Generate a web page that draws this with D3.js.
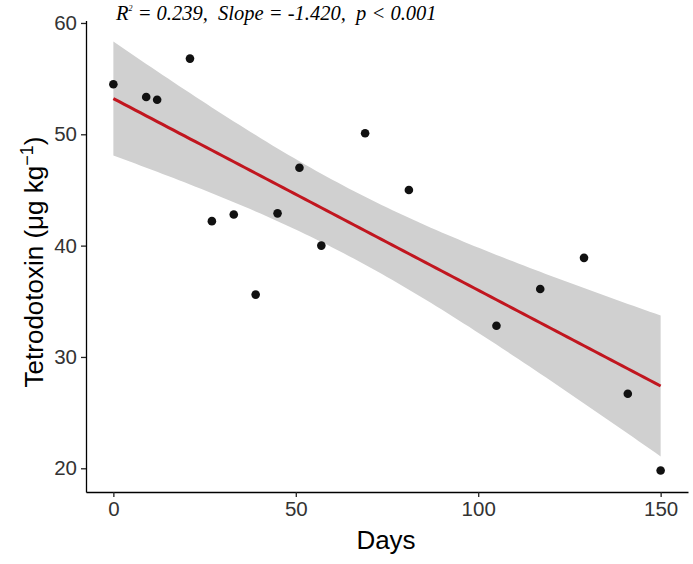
<!DOCTYPE html>
<html><head><meta charset="utf-8">
<script src="https://cdn.jsdelivr.net/npm/d3@7"></script>
<style>body{margin:0;background:#fff}svg{display:block}</style>
</head><body>
<script>
const days = [0, 9, 12, 21, 27, 33, 39, 45, 51, 57, 69, 81, 105, 117, 129, 141, 150];
const ttx  = [54.5, 53.35, 53.1, 56.8, 42.2, 42.8, 35.6, 42.9, 47.0, 40.0, 50.1, 45.0, 32.8, 36.1, 38.9, 26.7, 19.8];
const xTicks = [0, 50, 100, 150];
const yTicks = [20, 30, 40, 50, 60];
const tCrit = 2.131; // t(0.975, df=15)

const W = 693, H = 564;
const svg = d3.select("body").append("svg").attr("width", W).attr("height", H);

const x = d3.scaleLinear().domain([-7.5, 157.5]).range([86, 688]);
const y = d3.scaleLinear().domain([17.87, 60.23]).range([492, 20.4]);

// linear fit + 95% CI
const n = days.length;
const mx = d3.mean(days), my = d3.mean(ttx);
const sxx = d3.sum(days, d => (d - mx) ** 2);
const sxy = d3.sum(days.map((d, i) => (d - mx) * (ttx[i] - my)));
const b = sxy / sxx, a = my - b * mx;
const sse = d3.sum(days.map((d, i) => (ttx[i] - a - b * d) ** 2));
const s = Math.sqrt(sse / (n - 2));
const grid = d3.range(0, 150.001, 1.5);
const fit = grid.map(g => {
  const f = a + b * g;
  const se = s * Math.sqrt(1 / n + (g - mx) ** 2 / sxx);
  return {x: g, y: f, lo: f - tCrit * se, hi: f + tCrit * se};
});

svg.append("path").datum(fit)
  .attr("fill", "#d0d0d0")
  .attr("d", d3.area().x(d => x(d.x)).y0(d => y(d.lo)).y1(d => y(d.hi)));

svg.append("path").datum(fit)
  .attr("fill", "none").attr("stroke", "#c1161f").attr("stroke-width", 3)
  .attr("d", d3.line().x(d => x(d.x)).y(d => y(d.y)));

svg.append("g").selectAll("circle").data(days).join("circle")
  .attr("cx", d => x(d)).attr("cy", (d, i) => y(ttx[i])).attr("r", 4.3)
  .attr("fill", "#111");

// axes
const xAxis = svg.append("g").attr("transform", "translate(0,492)")
  .call(d3.axisBottom(x).tickValues(xTicks).tickSizeInner(5).tickSizeOuter(0).tickPadding(4));
const yAxis = svg.append("g").attr("transform", "translate(86,0)")
  .call(d3.axisLeft(y).tickValues(yTicks).tickSizeInner(5).tickSizeOuter(0).tickPadding(4));
[xAxis, yAxis].forEach(g => {
  g.select(".domain").attr("stroke", "#000").attr("stroke-width", 1.3);
  g.selectAll(".tick line").attr("stroke", "#222").attr("stroke-width", 1.3);
  g.selectAll(".tick text").attr("font-family", "Arial, 'Liberation Sans', sans-serif")
    .attr("font-size", 20.5).attr("fill", "#333");
});

// axis titles
svg.append("text").attr("x", 386).attr("y", 549).attr("text-anchor", "middle")
  .attr("font-family", "Arial, 'Liberation Sans', sans-serif").attr("font-size", 26).attr("fill", "#000")
  .text("Days");

const yl = svg.append("text").attr("transform", "translate(43,262) rotate(-90)")
  .attr("text-anchor", "middle")
  .attr("font-family", "Arial, 'Liberation Sans', sans-serif").attr("font-size", 26).attr("fill", "#000");
yl.append("tspan").text("Tetrodotoxin (μg kg");
yl.append("tspan").attr("dy", -10).attr("font-size", 18).text("−1");
yl.append("tspan").attr("dy", 10).text(")");

// annotation
const ann = svg.append("text").attr("x", 116).attr("y", 20)
  .attr("font-family", "'Liberation Serif', 'Times New Roman', serif").attr("font-style", "italic")
  .attr("font-size", 20.5).attr("fill", "#000");
ann.append("tspan").text("R");
ann.append("tspan").attr("dy", -9).attr("font-size", 8).text("2");
ann.append("tspan").attr("dy", 9).text(" = 0.239,\u00a0\u00a0Slope = -1.420,\u00a0\u00a0p < 0.001");
</script>
</body></html>
